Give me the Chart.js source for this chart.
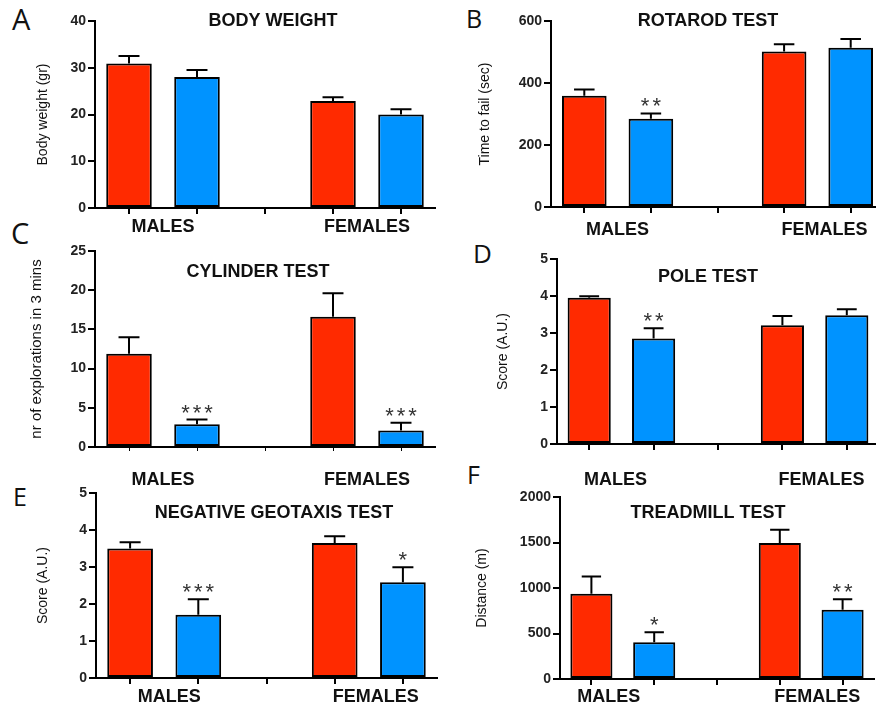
<!DOCTYPE html>
<html lang="en">
<head>
<meta charset="UTF-8" />
<title>Motor behaviour tests</title>
<script src="https://cdn.jsdelivr.net/npm/chart.js"></script>
<style>
  html, body { margin: 0; padding: 0; background: #fff; overflow: hidden; }
  body { width: 876px; height: 708px; position: relative; }
  .panel { position: absolute; }
  .letter {
    position: absolute;
    font-family: 'Open Sans', sans-serif;
    color: #111;
    line-height: 1;
  }
</style>
</head>
<body>
  <div class="letter" style="left:12px; top:4px; font-size:29px">A</div>
  <div class="letter" style="left:466px; top:6px; font-size:25px">B</div>
  <div class="letter" style="left:11px; top:218px; font-size:29px">C</div>
  <div class="letter" style="left:473px; top:240px; font-size:26px">D</div>
  <div class="letter" style="left:13px; top:484px; font-size:25px">E</div>
  <div class="letter" style="left:467px; top:462px; font-size:25px">F</div>

  <div class="panel" id="boxA"><canvas id="chartA"></canvas></div>
  <div class="panel" id="boxB"><canvas id="chartB"></canvas></div>
  <div class="panel" id="boxC"><canvas id="chartC"></canvas></div>
  <div class="panel" id="boxD"><canvas id="chartD"></canvas></div>
  <div class="panel" id="boxE"><canvas id="chartE"></canvas></div>
  <div class="panel" id="boxF"><canvas id="chartF"></canvas></div>

<script>
// 5 slots per plot: male ctrl, male mutant, gap, female ctrl, female mutant
const slots = ['M-ctrl', 'M-mut', '', 'F-ctrl', 'F-mut'];
const groups = ['MALES', 'FEMALES'];

const bodyWeight    = [30.9, 28.0, null, 22.9, 20.0];
const bodyWeightSem = [1.6, 1.5, null, 0.8, 1.1];

const rotarod      = [359, 285, null, 502, 514];
const rotarodSem   = [20, 17, null, 23, 28];
const rotarodStars = ['', '**', '', '', ''];

const cylinder      = [11.9, 2.9, null, 16.6, 2.1];
const cylinderSem   = [2.1, 0.6, null, 3.0, 1.0];
const cylinderStars = ['', '***', '', '', '***'];

const pole      = [3.95, 2.85, null, 3.21, 3.48];
const poleSem   = [0.04, 0.28, null, 0.25, 0.16];
const poleStars = ['', '**', '', '', ''];

const geotaxis      = [3.50, 1.71, null, 3.65, 2.59];
const geotaxisSem   = [0.17, 0.42, null, 0.18, 0.40];
const geotaxisStars = ['', '***', '', '', '*'];

const treadmill      = [936, 404, null, 1494, 760];
const treadmillSem   = [191, 110, null, 146, 117];
const treadmillStars = ['', '*', '', '', '**'];

const RED = '#ff2a00';
const BLUE = '#0093ff';
const barColors = [RED, BLUE, RED, RED, BLUE];
const FONT = "'Liberation Sans', Arial, sans-serif";
const X_AXIS_H = 10;

// draws error bars, stars, group labels and the plot title
const extras = {
  id: 'extras',
  afterDatasetsDraw(chart, args, opts) {
    const { ctx, scales: { x, y } } = chart;
    const meta = chart.getDatasetMeta(0);
    ctx.save();
    ctx.strokeStyle = '#000';
    ctx.lineWidth = 2;
    opts.values.forEach((v, i) => {
      if (v == null) return;
      const bar = meta.data[i];
      const top = y.getPixelForValue(v + opts.sem[i]);
      const base = y.getPixelForValue(v);
      const half = bar.width * 0.23;
      ctx.beginPath();
      ctx.moveTo(bar.x, base);
      ctx.lineTo(bar.x, top);
      ctx.moveTo(bar.x - half, top);
      ctx.lineTo(bar.x + half, top);
      ctx.stroke();
      if (opts.stars && opts.stars[i]) {
        ctx.fillStyle = '#333';
        ctx.font = '22px ' + FONT;
        ctx.textAlign = 'center';
        ctx.textBaseline = 'alphabetic';
        ctx.letterSpacing = '3px';
        ctx.fillText(opts.stars[i], bar.x + 1.5, top);
        ctx.letterSpacing = '0px';
      }
    });

    ctx.fillStyle = '#111';
    ctx.font = 'bold 18px ' + FONT;
    ctx.textAlign = 'center';
    ctx.textBaseline = 'middle';
    groups.forEach((g, k) => {
      const mid = (x.getPixelForValue(k * 3) + x.getPixelForValue(k * 3 + 1)) / 2;
      ctx.fillText(g, mid + opts.shift[k], opts.labelY - opts.box.top);
    });
    ctx.fillText(opts.title, opts.titleX - opts.box.left, opts.titleY - opts.box.top);
    ctx.restore();
  }
};

function buildChart(p) {
  const box = document.getElementById(p.boxId);
  box.style.left = p.box.left + 'px';
  box.style.top = p.box.top + 'px';
  box.style.width = p.box.width + 'px';
  box.style.height = p.box.height + 'px';

  const yTitleSize = p.yTitleSize || 14;
  const scaleLeft = p.yTitleX - yTitleSize * 1.2 / 2;
  const yWidth = p.area.left - scaleLeft;

  new Chart(document.getElementById(p.canvasId), {
    type: 'bar',
    data: {
      labels: slots,
      datasets: [{
        data: p.values,
        backgroundColor: barColors,
        borderColor: '#000',
        borderWidth: 2,
        borderSkipped: false,
        barPercentage: 0.67,
        categoryPercentage: 1
      }]
    },
    plugins: [extras],
    options: {
      responsive: true,
      maintainAspectRatio: false,
      animation: false,
      layout: {
        padding: {
          left: scaleLeft - p.box.left,
          top: p.area.top - p.box.top,
          right: p.box.left + p.box.width - p.area.right,
          bottom: p.box.top + p.box.height - p.area.bottom - X_AXIS_H
        }
      },
      plugins: {
        legend: { display: false },
        tooltip: { enabled: false },
        extras: {
          values: p.values, sem: p.sem, stars: p.stars,
          title: p.title, titleX: p.titleX, titleY: p.titleY,
          labelY: p.labelY, shift: p.shift, box: p.box
        }
      },
      scales: {
        x: {
          offset: true,
          ticks: { display: false },
          grid: {
            display: true, drawOnChartArea: false, drawTicks: true, offset: false,
            tickLength: p.thinTicks ? 4 : 6, color: '#000', lineWidth: p.thinTicks ? 1 : 2
          },
          border: { display: true, color: '#000', width: 2 },
          afterFit(s) { s.height = X_AXIS_H; }
        },
        y: {
          min: 0,
          max: p.max,
          ticks: {
            stepSize: p.step,
            color: '#222',
            padding: 2,
            font: { family: FONT, size: 14, weight: 'bold' },
            callback: (v) => String(v)
          },
          grid: {
            display: true, drawOnChartArea: false, drawTicks: true,
            tickLength: 7, color: '#000', lineWidth: 2
          },
          border: { display: true, color: '#000', width: 2 },
          title: {
            display: true,
            text: p.yTitle,
            color: '#111',
            padding: 0,
            font: { family: FONT, size: yTitleSize }
          },
          afterFit(s) { s.width = yWidth; }
        }
      }
    }
  });
}

buildChart({
  boxId: 'boxA', canvasId: 'chartA',
  box: { left: 0, top: 0, width: 440, height: 240 },
  area: { left: 95, right: 435, top: 21, bottom: 208 },
  values: bodyWeight, sem: bodyWeightSem, stars: null,
  max: 40, step: 10, yTitle: 'Body weight (gr)', yTitleX: 43,
  title: 'BODY WEIGHT', titleX: 273, titleY: 21,
  labelY: 227, shift: [0, 0]
});

buildChart({
  boxId: 'boxB', canvasId: 'chartB',
  box: { left: 440, top: 0, width: 445, height: 240 },
  area: { left: 551, right: 884, top: 21, bottom: 207 },
  values: rotarod, sem: rotarodSem, stars: rotarodStars,
  max: 600, step: 200, yTitle: 'Time to fail (sec)', yTitleX: 485,
  title: 'ROTAROD TEST', titleX: 708, titleY: 21,
  labelY: 230, shift: [0, 7]
});

buildChart({
  boxId: 'boxC', canvasId: 'chartC',
  box: { left: 0, top: 225, width: 440, height: 270 },
  area: { left: 95, right: 435, top: 251, bottom: 447 },
  values: cylinder, sem: cylinderSem, stars: cylinderStars,
  max: 25, step: 5, yTitle: 'nr of explorations in 3 mins', yTitleX: 37, yTitleSize: 15,
  title: 'CYLINDER TEST', titleX: 258, titleY: 272,
  labelY: 480, shift: [0, 0], thinTicks: true
});

buildChart({
  boxId: 'boxD', canvasId: 'chartD',
  box: { left: 440, top: 225, width: 445, height: 270 },
  area: { left: 557, right: 879, top: 259, bottom: 444 },
  values: pole, sem: poleSem, stars: poleStars,
  max: 5, step: 1, yTitle: 'Score (A.U.)', yTitleX: 503,
  title: 'POLE TEST', titleX: 708, titleY: 277,
  labelY: 480, shift: [-6, 7]
});

buildChart({
  boxId: 'boxE', canvasId: 'chartE',
  box: { left: 0, top: 460, width: 440, height: 248 },
  area: { left: 96, right: 437, top: 493, bottom: 678 },
  values: geotaxis, sem: geotaxisSem, stars: geotaxisStars,
  max: 5, step: 1, yTitle: 'Score (A.U.)', yTitleX: 43,
  title: 'NEGATIVE GEOTAXIS TEST', titleX: 274, titleY: 513,
  labelY: 697, shift: [5, 7]
});

buildChart({
  boxId: 'boxF', canvasId: 'chartF',
  box: { left: 440, top: 460, width: 445, height: 248 },
  area: { left: 560, right: 874, top: 497, bottom: 679 },
  values: treadmill, sem: treadmillSem, stars: treadmillStars,
  max: 2000, step: 500, yTitle: 'Distance (m)', yTitleX: 482,
  title: 'TREADMILL TEST', titleX: 708, titleY: 513,
  labelY: 697, shift: [-14, 6]
});
</script>
</body>
</html>
